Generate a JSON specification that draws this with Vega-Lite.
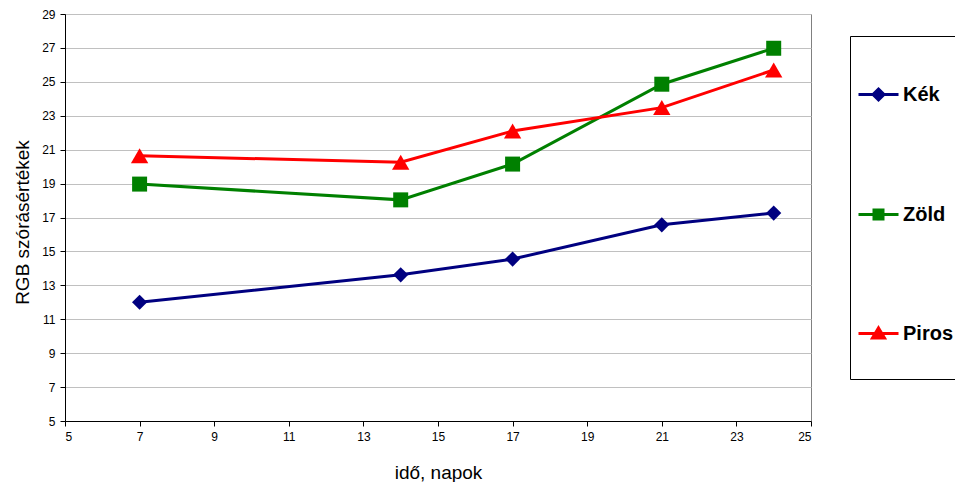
{
  "$schema": "https://vega.github.io/schema/vega-lite/v6.json",
  "width": 746,
  "height": 407,
  "autosize": {"type": "none"},
  "padding": {"left": 65, "top": 14, "right": 144, "bottom": 61},
  "background": "white",
  "config": {
    "font": "Liberation Sans",
    "view": {"stroke": "#808080", "strokeWidth": 1}
  },
  "data": {
    "values": [
      {"szin": "Kék", "napok": 7, "ertek": 12.0},
      {"szin": "Kék", "napok": 14, "ertek": 13.62},
      {"szin": "Kék", "napok": 17, "ertek": 14.55},
      {"szin": "Kék", "napok": 21, "ertek": 16.57},
      {"szin": "Kék", "napok": 24, "ertek": 17.26},
      {"szin": "Zöld", "napok": 7, "ertek": 18.97},
      {"szin": "Zöld", "napok": 14, "ertek": 18.04},
      {"szin": "Zöld", "napok": 17, "ertek": 20.15},
      {"szin": "Zöld", "napok": 21, "ertek": 24.86},
      {"szin": "Zöld", "napok": 24, "ertek": 26.98},
      {"szin": "Piros", "napok": 7, "ertek": 20.64},
      {"szin": "Piros", "napok": 14, "ertek": 20.26},
      {"szin": "Piros", "napok": 17, "ertek": 22.1},
      {"szin": "Piros", "napok": 21, "ertek": 23.48},
      {"szin": "Piros", "napok": 24, "ertek": 25.7}
    ]
  },
  "encoding": {
    "x": {
      "field": "napok",
      "type": "quantitative",
      "scale": {"domain": [5, 25], "nice": false, "zero": false},
      "axis": {
        "values": [5, 7, 9, 11, 13, 15, 17, 19, 21, 23, 25],
        "grid": false,
        "domainColor": "black",
        "tickColor": "black",
        "tickSize": 5,
        "labelFontSize": 12,
        "labelColor": "black",
        "labelPadding": 5,
        "title": "idő, napok",
        "titleFontSize": 19,
        "titleFontWeight": "normal",
        "titleColor": "black",
        "titleBaseline": "middle",
        "titleY": 51
      }
    },
    "y": {
      "field": "ertek",
      "type": "quantitative",
      "scale": {"domain": [5, 29], "nice": false, "zero": false},
      "axis": {
        "values": [5, 7, 9, 11, 13, 15, 17, 19, 21, 23, 25, 27, 29],
        "grid": true,
        "gridColor": "#c0c0c0",
        "domainColor": "black",
        "tickColor": "black",
        "tickSize": 5,
        "labelFontSize": 12,
        "labelColor": "black",
        "labelPadding": 5,
        "title": "RGB szórásértékek",
        "titleFontSize": 19,
        "titleFontWeight": "normal",
        "titleColor": "black",
        "titleBaseline": "middle",
        "titleX": -43,
        "titleY": 208
      }
    },
    "color": {
      "field": "szin",
      "type": "nominal",
      "scale": {"domain": ["Kék", "Zöld", "Piros"], "range": ["#000080", "#008000", "#ff0000"]},
      "legend": {
        "orient": "none",
        "legendX": 785,
        "legendY": 22,
        "title": "\u00a0",
        "titleOrient": "bottom",
        "titleFontSize": 20,
        "titlePadding": 8,
        "direction": "vertical",
        "padding": 7,
        "rowPadding": 57,
        "strokeColor": "black",
        "fillColor": "white",
        "symbolType": "stroke",
        "symbolSize": 10000,
        "symbolStrokeWidth": 3,
        "labelFontSize": 20,
        "labelFontWeight": "bold",
        "labelColor": "black",
        "labelOffset": -57,
        "labelLimit": 300,
        "encode": {
          "symbols": {
            "update": {
              "shape": {"signal": "datum.value === 'Kék' ? 'M-1,0H-0.2M-0.6,-0.11L-0.49,0L-0.6,0.11L-0.71,0Z' : datum.value === 'Zöld' ? 'M-1,0H-0.2M-0.69,-0.09H-0.51V0.09H-0.69Z' : 'M-1,0H-0.2M-0.6,-0.11L-0.48,0.09L-0.72,0.09Z'"},
              "fill": {"signal": "scale('color', datum.value)"},
              "stroke": {"signal": "scale('color', datum.value)"},
              "strokeWidth": {"value": 3},
              "opacity": {"value": 1}
            }
          }
        }
      }
    }
  },
  "layer": [
    {"mark": {"type": "line", "strokeWidth": 3}},
    {
      "transform": [{"filter": "datum.szin === 'Kék'"}],
      "mark": {"type": "point", "filled": true, "opacity": 1, "shape": "diamond", "size": 230}
    },
    {
      "transform": [{"filter": "datum.szin === 'Zöld'"}],
      "mark": {"type": "point", "filled": true, "opacity": 1, "shape": "square", "size": 225}
    },
    {
      "transform": [{"filter": "datum.szin === 'Piros'"}],
      "mark": {"type": "point", "filled": true, "opacity": 1, "shape": "triangle-up", "size": 300}
    }
  ]
}
